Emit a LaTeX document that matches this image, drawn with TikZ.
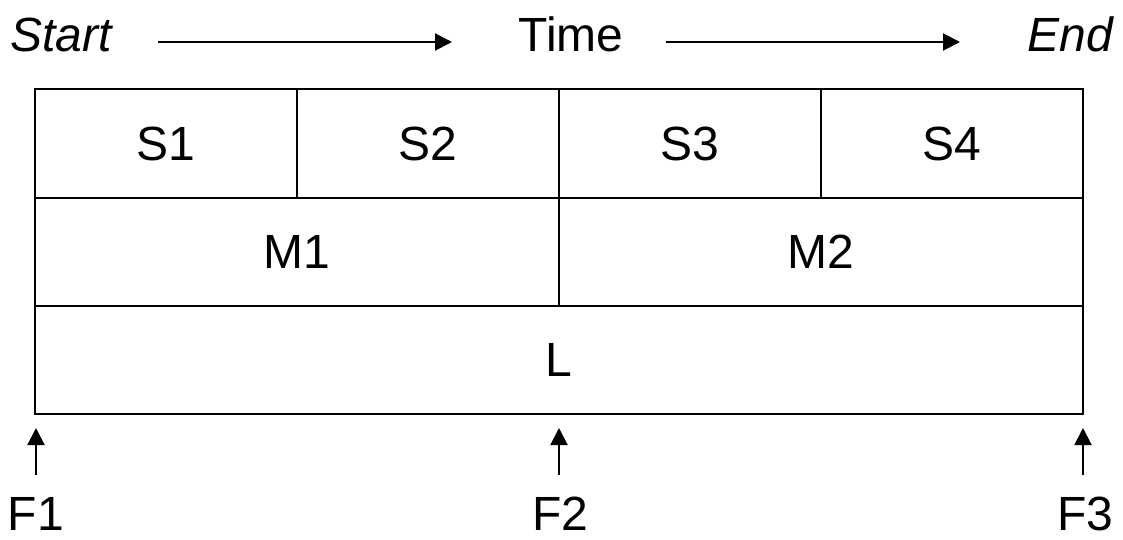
\documentclass[tikz,border=0pt]{standalone}
\usepackage{fontspec}
\setmainfont{Liberation Sans}
\usetikzlibrary{arrows.meta}
\begin{document}
\begin{tikzpicture}[x=1pt,y=-1pt,
  cell/.style={draw, line width=2pt, minimum height=108pt, inner sep=0pt, font=\fontsize{48}{56}\selectfont},
  lbl/.style={font=\fontsize{48}{56}\selectfont, inner sep=0pt, anchor=base},
  arr/.style={line width=2pt, -{Triangle[length=17pt,width=17pt]}}]
\useasboundingbox (0,0) rectangle (1123,540);
% top row
\node[cell, minimum width=262pt] (s1) at (166,143.5) {S1};
\node[cell, minimum width=262pt] (s2) at (428,143.5) {S2};
\node[cell, minimum width=262pt] (s3) at (690,143.5) {S3};
\node[cell, minimum width=262pt] (s4) at (952,143.5) {S4};
% middle row
\node[cell, minimum width=524pt] (m1) at (297,251.5) {M1};
\node[cell, minimum width=524pt] (m2) at (821,251.5) {M2};
% bottom row
\node[cell, minimum width=1048pt] (l) at (559,359.5) {L};
% time header
\node[lbl, font=\fontsize{48}{56}\selectfont\itshape] (start) at (61,52) {Start};
\node[lbl] (time) at (571,52) {Time};
\node[lbl, font=\fontsize{48}{56}\selectfont\itshape] (end) at (1070,52) {End};
\coordinate (a1s) at (158,42);
\coordinate (a1e) at (452,42);
\coordinate (a2s) at (666,42);
\coordinate (a2e) at (960,42);
\draw[arr] (a1s) -- (a1e);
\draw[arr] (a2s) -- (a2e);
% F markers
\node[lbl] (f1) at (36,530) {F1};
\node[lbl] (f2) at (560,530) {F2};
\node[lbl] (f3) at (1085,530) {F3};
\coordinate (b1) at (36,475);
\coordinate (b2) at (559,475);
\coordinate (b3) at (1083,475);
\coordinate (t1) at (36,428);
\coordinate (t2) at (559,428);
\coordinate (t3) at (1083,428);
\draw[arr] (b1) -- (t1);
\draw[arr] (b2) -- (t2);
\draw[arr] (b3) -- (t3);
\end{tikzpicture}
\end{document}
